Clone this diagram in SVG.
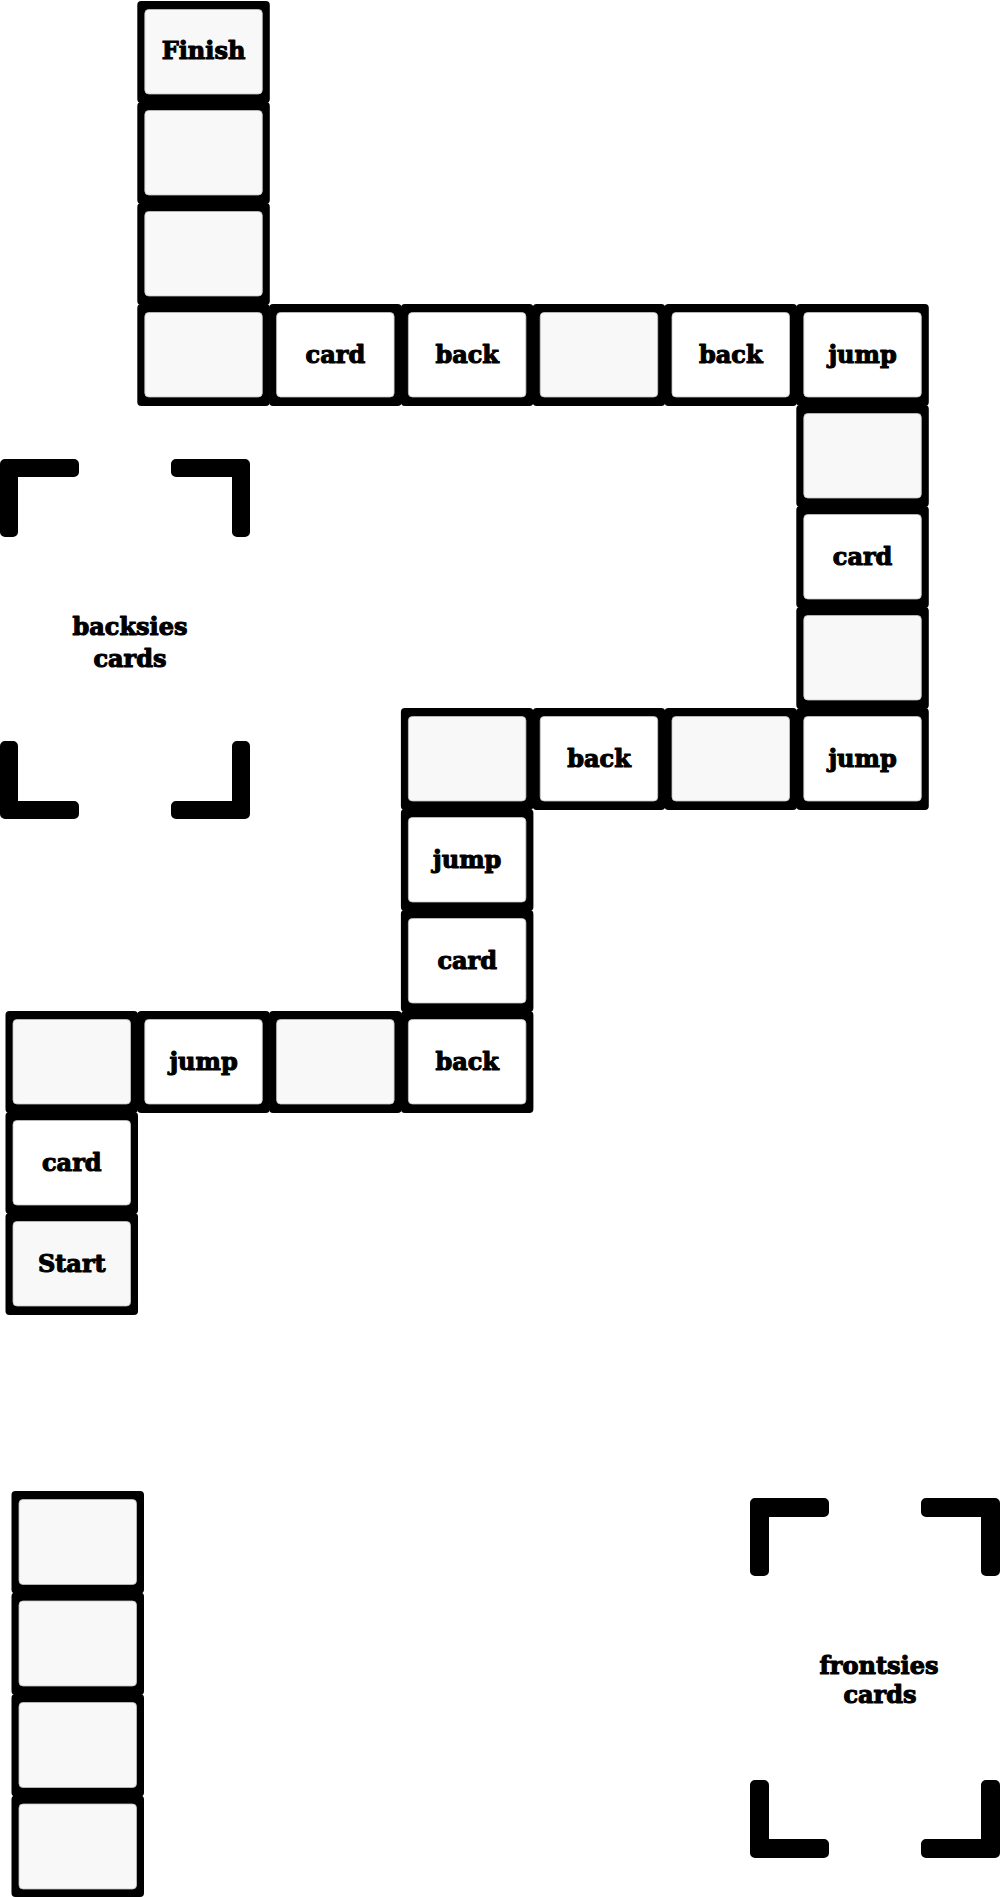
<svg xmlns="http://www.w3.org/2000/svg" width="1000" height="1897" viewBox="0 0 1000 1897">
<style>
.ob{fill:#000;}
.ig{fill:#f8f8f8;stroke:#c4c4c4;stroke-width:0.8;}
.iw{fill:#ffffff;stroke:#c4c4c4;stroke-width:0.8;}
.t{font-family:"DejaVu Serif","Liberation Serif",serif;font-weight:bold;font-size:24px;fill:#000;stroke:#000;stroke-width:1.1;stroke-linejoin:round;text-anchor:middle;}
.bk{fill:#000;stroke:#000;stroke-width:10;stroke-linejoin:round;}
</style>
<rect width="1000" height="1897" fill="#ffffff"/>
<g id="board">
<g id="t-finish"><rect class="ob" x="137.3" y="1" width="132.5" height="102" rx="4"/><rect class="ig" x="144.8" y="9.5" width="117.5" height="84.5" rx="4"/><text class="t" x="203.5" y="59">Finish</text></g>
<g id="t-c1r1"><rect class="ob" x="137.3" y="102" width="132.5" height="102" rx="4"/><rect class="ig" x="144.8" y="110.5" width="117.5" height="84.5" rx="4"/></g>
<g id="t-c1r2"><rect class="ob" x="137.3" y="203" width="132.5" height="102" rx="4"/><rect class="ig" x="144.8" y="211.5" width="117.5" height="84.5" rx="4"/></g>
<g id="t-c1r3"><rect class="ob" x="137.3" y="304" width="132.5" height="102" rx="4"/><rect class="ig" x="144.8" y="312.5" width="117.5" height="84.5" rx="4"/></g>
<g id="t-c2r3"><rect class="ob" x="269.1" y="304" width="132.5" height="102" rx="4"/><rect class="iw" x="276.6" y="312.5" width="117.5" height="84.5" rx="4"/><text class="t" x="335.4" y="362.5">card</text></g>
<g id="t-c3r3"><rect class="ob" x="400.9" y="304" width="132.5" height="102" rx="4"/><rect class="iw" x="408.4" y="312.5" width="117.5" height="84.5" rx="4"/><text class="t" x="467.2" y="362.5">back</text></g>
<g id="t-c4r3"><rect class="ob" x="532.7" y="304" width="132.5" height="102" rx="4"/><rect class="ig" x="540.2" y="312.5" width="117.5" height="84.5" rx="4"/></g>
<g id="t-c5r3"><rect class="ob" x="664.5" y="304" width="132.5" height="102" rx="4"/><rect class="iw" x="672" y="312.5" width="117.5" height="84.5" rx="4"/><text class="t" x="730.8" y="362.5">back</text></g>
<g id="t-c6r3"><rect class="ob" x="796.3" y="304" width="132.5" height="102" rx="4"/><rect class="iw" x="803.8" y="312.5" width="117.5" height="84.5" rx="4"/><text class="t" x="862.6" y="362.5">jump</text></g>
<g id="t-c6r4"><rect class="ob" x="796.3" y="405" width="132.5" height="102" rx="4"/><rect class="ig" x="803.8" y="413.5" width="117.5" height="84.5" rx="4"/></g>
<g id="t-c6r5"><rect class="ob" x="796.3" y="506" width="132.5" height="102" rx="4"/><rect class="iw" x="803.8" y="514.5" width="117.5" height="84.5" rx="4"/><text class="t" x="862.6" y="564.5">card</text></g>
<g id="t-c6r6"><rect class="ob" x="796.3" y="607" width="132.5" height="102" rx="4"/><rect class="ig" x="803.8" y="615.5" width="117.5" height="84.5" rx="4"/></g>
<g id="t-c6r7"><rect class="ob" x="796.3" y="708" width="132.5" height="102" rx="4"/><rect class="iw" x="803.8" y="716.5" width="117.5" height="84.5" rx="4"/><text class="t" x="862.6" y="766.5">jump</text></g>
<g id="t-c5r7"><rect class="ob" x="664.5" y="708" width="132.5" height="102" rx="4"/><rect class="ig" x="672" y="716.5" width="117.5" height="84.5" rx="4"/></g>
<g id="t-c4r7"><rect class="ob" x="532.7" y="708" width="132.5" height="102" rx="4"/><rect class="iw" x="540.2" y="716.5" width="117.5" height="84.5" rx="4"/><text class="t" x="599" y="766.5">back</text></g>
<g id="t-c3r7"><rect class="ob" x="400.9" y="708" width="132.5" height="102" rx="4"/><rect class="ig" x="408.4" y="716.5" width="117.5" height="84.5" rx="4"/></g>
<g id="t-c3r8"><rect class="ob" x="400.9" y="809" width="132.5" height="102" rx="4"/><rect class="iw" x="408.4" y="817.5" width="117.5" height="84.5" rx="4"/><text class="t" x="467.2" y="867.5">jump</text></g>
<g id="t-c3r9"><rect class="ob" x="400.9" y="910" width="132.5" height="102" rx="4"/><rect class="iw" x="408.4" y="918.5" width="117.5" height="84.5" rx="4"/><text class="t" x="467.2" y="968.5">card</text></g>
<g id="t-c3r10"><rect class="ob" x="400.9" y="1011" width="132.5" height="102" rx="4"/><rect class="iw" x="408.4" y="1019.5" width="117.5" height="84.5" rx="4"/><text class="t" x="467.2" y="1069.5">back</text></g>
<g id="t-c2r10"><rect class="ob" x="269.1" y="1011" width="132.5" height="102" rx="4"/><rect class="ig" x="276.6" y="1019.5" width="117.5" height="84.5" rx="4"/></g>
<g id="t-c1r10"><rect class="ob" x="137.3" y="1011" width="132.5" height="102" rx="4"/><rect class="iw" x="144.8" y="1019.5" width="117.5" height="84.5" rx="4"/><text class="t" x="203.6" y="1069.5">jump</text></g>
<g id="t-c0r10"><rect class="ob" x="5.5" y="1011" width="132.5" height="102" rx="4"/><rect class="ig" x="13" y="1019.5" width="117.5" height="84.5" rx="4"/></g>
<g id="t-c0r11"><rect class="ob" x="5.5" y="1112" width="132.5" height="102" rx="4"/><rect class="iw" x="13" y="1120.5" width="117.5" height="84.5" rx="4"/><text class="t" x="71.8" y="1170.5">card</text></g>
<g id="t-start"><rect class="ob" x="5.5" y="1213" width="132.5" height="102" rx="4"/><rect class="ig" x="13" y="1221.5" width="117.5" height="84.5" rx="4"/><text class="t" x="71.8" y="1271.5">Start</text></g>
</g>
<g id="spare-tiles">
<g id="s1"><rect class="ob" x="11.5" y="1491" width="132.5" height="102.5" rx="4"/><rect class="ig" x="19" y="1499.5" width="117.5" height="85" rx="4"/></g>
<g id="s2"><rect class="ob" x="11.5" y="1592.5" width="132.5" height="102.5" rx="4"/><rect class="ig" x="19" y="1601" width="117.5" height="85" rx="4"/></g>
<g id="s3"><rect class="ob" x="11.5" y="1694" width="132.5" height="102.5" rx="4"/><rect class="ig" x="19" y="1702.5" width="117.5" height="85" rx="4"/></g>
<g id="s4"><rect class="ob" x="11.5" y="1795.5" width="132.5" height="101.5" rx="4"/><rect class="ig" x="19" y="1804" width="117.5" height="85" rx="4"/></g>
</g>
<g id="backsies">
<path class="bk" d="M5,464 H74 V472 H13 V532 H5 Z"/>
<path class="bk" d="M176,464 H245 V532 H237 V472 H176 Z"/>
<path class="bk" d="M5,746 V814 H74 V806 H13 V746 Z"/>
<path class="bk" d="M245,746 V814 H176 V806 H237 V746 Z"/>
<text class="t" x="130" y="635">backsies</text>
<text class="t" x="130" y="667">cards</text>
</g>
<g id="frontsies">
<path class="bk" d="M755,1503 H824 V1512 H764 V1571 H755 Z"/>
<path class="bk" d="M926,1503 H995 V1571 H986 V1512 H926 Z"/>
<path class="bk" d="M755,1785 V1853 H824 V1844 H764 V1785 Z"/>
<path class="bk" d="M995,1785 V1853 H926 V1844 H986 V1785 Z"/>
<text class="t" x="879" y="1674">frontsies</text>
<text class="t" x="880" y="1703">cards</text>
</g>
</svg>
